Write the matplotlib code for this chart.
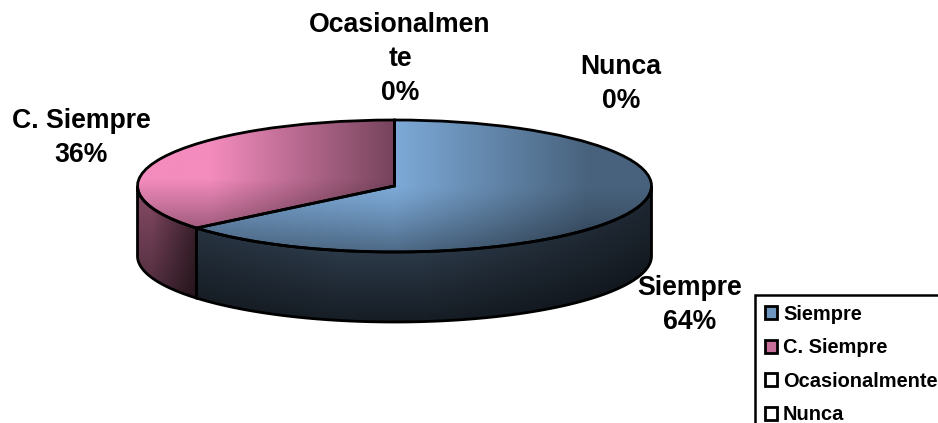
"""
3D looking pie chart with legend cut off at the figure border
"""
import numpy as np
import matplotlib
matplotlib.use("Agg")
import matplotlib.pyplot as plt
from matplotlib.patches import Patch, Polygon

categories = ["Siempre", "C. Siempre", "Ocasionalmente", "Nunca"]
values = [64, 36, 0, 0]
slice_labels = ["Siempre", "C. Siempre", "Ocasionalmen\nte", "Nunca"]
label_px = [(690, 305), (81, 138), (400, 59), (621, 84)]

W, H = 938, 423
cx, cy, rx, ry = 394.5, 186, 257, 66
depth = 70 / ry  # wall height in y units of the pie axes

plt.rcParams['font.family'] = ['Liberation Sans', 'DejaVu Sans']
plt.rcParams['font.weight'] = 'bold'

fig = plt.figure(figsize=(W / 100, H / 100), dpi=100)
# axes also hold the wall below the ellipse
ax = fig.add_axes([(cx - rx) / W, 1 - (cy + ry + depth * ry + 3) / H, 2 * rx / W, ((2 + depth) * ry + 3) / H])
y_low = -1 - depth - 3 / ry

wedges, _ = ax.pie(values, startangle=90, counterclock=False, radius=1, center=(0, 0),
                   wedgeprops={'edgecolor': 'black', 'linewidth': 2, 'facecolor': 'none'})
ax.set_aspect('auto')


def gradient(fn):
    xs, ys = np.meshgrid(np.linspace(-1, 1, 500), np.linspace(1, y_low, 500))
    return fn(xs, ys)


def blue_top(x, y):
    f = np.clip(1 - 0.42 * np.clip(x, 0, 0.75) / 0.75 - 0.12 * np.clip(-x, 0, 1), 0, 1)
    f = f * (1 - 0.38 * np.clip(-y, 0, 1) ** 1.2)
    return np.clip(np.dstack([125 * f, 170 * f, 216 * f]) / 255, 0, 1)


def pink_top(x, y):
    f = 1 - 0.52 * np.clip((x + 0.72) / 0.72, 0, 1)
    f = f * (1 - 0.5 * np.clip((0.1 - y) / 1.1, 0, 1))
    return np.clip(np.dstack([244 * f, 140 * f, 190 * f]) / 255, 0, 1)


def blue_side(x, y):
    f = 1 - 0.5 * np.clip((x - 0.1) / 0.9, 0, 1) - 0.25 * np.clip((-x - 0.2) / 0.6, 0, 1)
    f = f * (1 - 0.62 * np.clip((-0.3 - y) / 1.75, 0, 1))
    return np.clip(np.dstack([58 * f, 76 * f, 96 * f]) / 255, 0, 1)


def pink_side(x, y):
    f = 1 - 0.6 * np.clip((x + 0.95) / 0.2, 0, 1)
    f = f * (1 - 0.45 * np.clip((-0.3 - y) / 1.6, 0, 1))
    return np.clip(np.dstack([125 * f, 70 * f, 95 * f]) / 255, 0, 1)


extent = (-1, 1, y_low, 1)

# walls of the front half, the angles follow the slice values
boundary = 90 - 360 * values[0] / sum(values)
walls = [(0, boundary, blue_side), (boundary, -180, pink_side)]
for a0, a1, fn in walls:
    th = np.radians(np.linspace(a0, a1, 120))
    top = np.column_stack([np.cos(th), np.sin(th)])
    bottom = top[::-1] - [0, depth]
    wall = Polygon(np.vstack([top, bottom]), closed=True, facecolor='none', edgecolor='black',
                   linewidth=2, clip_on=False, zorder=3)
    ax.add_patch(wall)
    im = ax.imshow(gradient(fn), extent=extent, aspect='auto', zorder=2)
    im.set_clip_path(wall)

# top face gradients
for wedge, fn in zip(wedges[:2], [blue_top, pink_top]):
    im = ax.imshow(gradient(fn), extent=extent, aspect='auto', zorder=2)
    im.set_clip_path(wedge)
    wedge.set_zorder(4)
    wedge.set_clip_on(False)

ax.set_xlim(-1, 1)
ax.set_ylim(y_low, 1)
ax.axis('off')

# data labels
total = sum(values)
for lab, v, (px, py) in zip(slice_labels, values, label_px):
    fig.text(px / W, 1 - py / H, f"{lab}\n{v / total:.0%}", ha='center', va='center',
             fontsize=19.2, fontweight='bold', linespacing=1.42)

# legend runs over the right and bottom edge like in the original
handle_colors = ['#6d96c0', '#c8709c', 'white', 'white']
handles = [Patch(facecolor=c, edgecolor='black', linewidth=2) for c in handle_colors]
leg = fig.legend(handles, categories, loc='upper left', bbox_to_anchor=(754.5 / W, 1 - 295 / H),
                 fontsize=14.4, frameon=True, fancybox=False, edgecolor='black', framealpha=1,
                 handlelength=0.62, handleheight=0.62, handletextpad=0.3, labelspacing=0.72,
                 borderaxespad=0, borderpad=0.5)
leg.get_frame().set_linewidth(1.8)

fig.savefig("out.png", dpi=100)
